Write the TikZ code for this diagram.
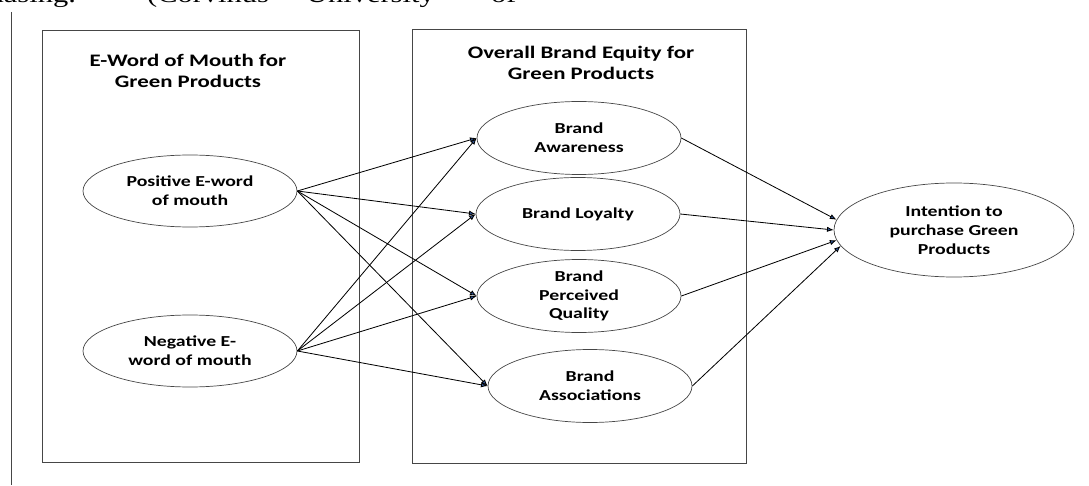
\documentclass[tikz,border=0pt]{standalone}
\usepackage{fontspec}
\setmainfont{Carlito}
\newfontfamily\diagfont[FakeStretch=1.3]{Carlito}
\newfontfamily\runfont[FakeStretch=1.3]{Liberation Serif}
\usetikzlibrary{arrows.meta,shapes.geometric}
\definecolor{tipblue}{RGB}{46,84,150}
\definecolor{rulegray}{RGB}{70,70,70}

\begin{document}
\begin{tikzpicture}[
  x=0.3mm, y=0.3mm,
  every node/.style={font=\diagfont\bfseries\fontsize{13}{16}\selectfont, align=center},
  oval/.style={draw=rulegray, line width=0.6pt, ellipse, inner sep=0pt, minimum width=61.2mm, minimum height=21.9mm},
  group/.style={draw=rulegray, line width=0.8pt},
  title/.style={font=\diagfont\bfseries\fontsize{15}{18}\selectfont},
  arrow/.style={-{Latex[length=2mm,width=1.6mm,fill=tipblue]}, line width=0.7pt}
]
\useasboundingbox (0,0) rectangle (1089,485);

% running text above, cut by the page edge
\node[anchor=base east, font=\runfont\fontsize{20}{24}\selectfont] (w1) at (80,482) {chasing.};
\node[anchor=base west, font=\runfont\fontsize{20}{24}\selectfont] (w2) at (143,482) {(Corvinus};
\node[anchor=base west, font=\runfont\fontsize{20}{24}\selectfont] (w3) at (302,482) {University};
\node[anchor=base west, font=\runfont\fontsize{20}{24}\selectfont] (w4) at (487,482) {of};
\draw[rulegray, line width=0.6pt] (11,473) -- (11,0);

% the two groups
\draw[group] (42,23) rectangle (359,455);
\draw[group] (412,22) rectangle (746,456);
\node[title] (t1) at (188,414) {E-Word of Mouth for\\Green Products};
\node[title] (t2) at (581,422) {Overall Brand Equity for\\Green Products};

\node[oval, minimum width=64.2mm, minimum height=21.6mm] (pw) at (190,294) {Positive E-word\\of mouth};
\node[oval, minimum width=64.2mm, minimum height=21.6mm] (nw) at (190,134) {Negative E-\\word of mouth};

\node[oval] (ba) at (579,347) {Brand\\Awareness};
\node[oval] (bl) at (578,271) {Brand Loyalty};
\node[oval] (bq) at (579,189) {Brand\\Perceived\\Quality};
\node[oval] (bs) at (590,99) {Brand\\Associations};

\node[oval, minimum width=72mm, minimum height=28.2mm] (ip) at (954,255) {Intention to\\purchase Green\\Products};

\draw[arrow] (pw.east) -- (ba.west);
\draw[arrow] (pw.east) -- (bl.west);
\draw[arrow] (pw.east) -- (bq.west);
\draw[arrow] (pw.east) -- (bs.west);
\draw[arrow] (nw.east) -- (ba.west);
\draw[arrow] (nw.east) -- (bl.west);
\draw[arrow] (nw.east) -- (bq.west);
\draw[arrow] (nw.east) -- (bs.west);

\draw[arrow] (ba.east) -- (ip.175);
\draw[arrow] (bl.east) -- (ip.180);
\draw[arrow] (bq.east) -- (ip.185);
\draw[arrow] (bs.east) -- (ip.188);
\end{tikzpicture}
\end{document}
